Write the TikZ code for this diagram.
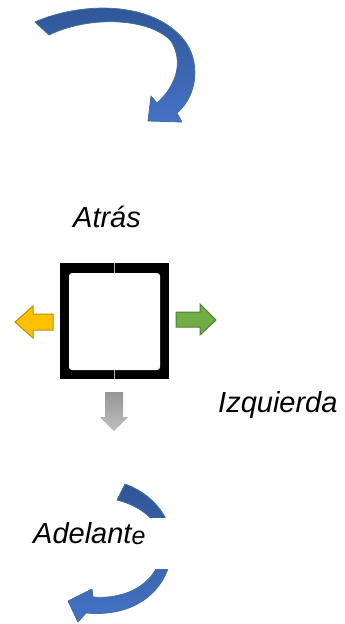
\documentclass[tikz,border=0pt]{standalone}
\usepackage{fontspec}
\setmainfont{Liberation Sans}
\definecolor{bluedark}{RGB}{47,85,151}
\definecolor{bluelight}{RGB}{68,114,196}
\definecolor{blueedge}{RGB}{65,113,156}
\definecolor{yfill}{RGB}{255,192,0}
\definecolor{yedge}{RGB}{191,144,0}
\definecolor{gfill}{RGB}{112,173,71}
\definecolor{gedge}{RGB}{80,126,50}
\definecolor{graytop}{RGB}{150,150,150}
\definecolor{graybot}{RGB}{190,190,190}
\begin{document}
\begin{tikzpicture}[x=1pt,y=-1pt,
  lbl/.style={inner sep=0pt,font=\fontsize{29}{33}\selectfont\itshape},
  bluearrow/.style={top color=bluedark,bottom color=bluelight,draw=blueedge,line width=0.8pt,line join=round},
  yellowarrow/.style={fill=yfill,draw=yedge,line width=1pt},
  greenarrow/.style={fill=gfill,draw=gedge,line width=1pt},
  grayarrow/.style={top color=graytop,bottom color=graybot,draw=none}]
\useasboundingbox (0,0) rectangle (345,624);
% top curved arrow
\path[bluearrow] (35,22) .. controls (80,2) and (152,0) .. (184,40)
  .. controls (200,60) and (199,94) .. (177,113)
  -- (182,122) -- (148,121) -- (151,96) -- (157,103)
  .. controls (176,86) and (184,62) .. (171,41)
  .. controls (150,18) and (90,15) .. (49,35) -- cycle;
% square
\fill[black] (60,263) rectangle (169,379);
\fill[white,rounded corners=3pt] (69,273) rectangle (160,370);
\draw[gray!60,line width=0.5pt] (114.5,263) -- (114.5,273) (114.5,370) -- (114.5,379);
% side arrows
\path[yellowarrow] (15,322) -- (33,306) -- (33,314) -- (53,314) -- (53,330) -- (33,330) -- (33,338) -- cycle;
\path[greenarrow] (216,320) -- (200,304) -- (200,312) -- (176,312) -- (176,327) -- (200,327) -- (200,335) -- cycle;
\path[grayarrow] (114,431) -- (100,417) -- (105,417) -- (105,392) -- (123,392) -- (123,417) -- (128,417) -- cycle;
% bottom curved arrow
\path[bluearrow] (125,484) .. controls (150,493) and (172,515) .. (172,545)
  .. controls (172,585) and (140,618) .. (86,613)
  -- (78,622) -- (68,601) -- (92,589) -- (93,597)
  .. controls (130,600) and (162,580) .. (162,545)
  .. controls (162,525) and (145,507) .. (117,500) -- cycle;
\fill[white] (30,518) rectangle (185,569);
% labels
\node[lbl,anchor=base] (atras) at (107,227) {Atrás};
\node[lbl,anchor=base west] (izq) at (218,412) {Izquierda};
\node[lbl,anchor=base west] (adel) at (33,543) {Adelant\raisebox{-1pt}{\fontsize{25}{28}\selectfont e}};
\end{tikzpicture}
\end{document}
